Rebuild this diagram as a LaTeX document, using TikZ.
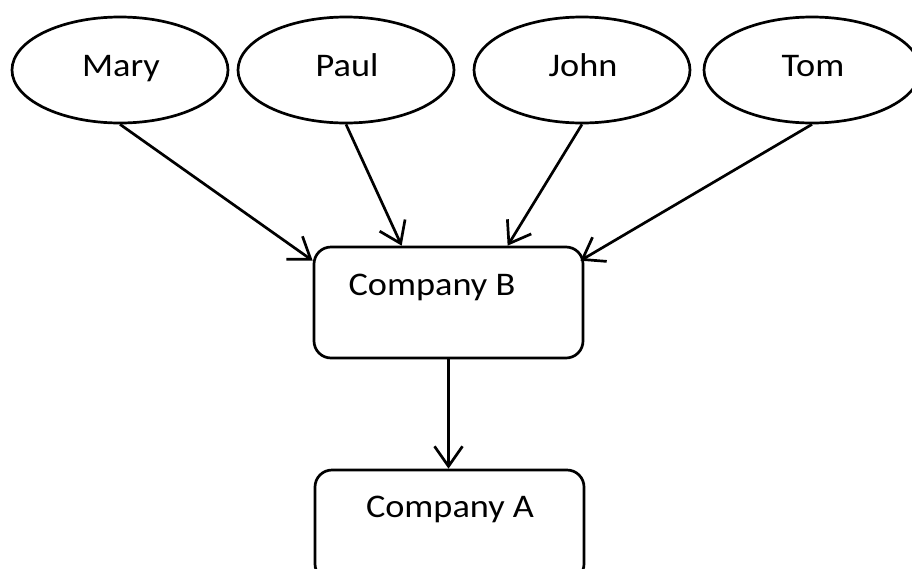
\documentclass[tikz,border=0pt]{standalone}
\usepackage{fontspec}
\setmainfont{Carlito}[FakeStretch=1.1]
\usetikzlibrary{shapes.geometric,arrows.meta,calc}
\begin{document}
\begin{tikzpicture}[x=1pt,y=-1pt,
  lw/.style={line width=2.7pt},
  txt/.style={font=\fontsize{33}{38}\selectfont},
  person/.style={ellipse,draw,lw,minimum width=216pt,minimum height=106pt,inner sep=0pt},
  boxnode/.style={draw,lw,rounded corners=17pt,minimum width=269pt,minimum height=111pt,inner sep=0pt},
  lbl/.style={txt,inner sep=0pt,anchor=base},
  arr/.style={lw,-{Straight Barb[length=20pt,width=28pt]}}]
\useasboundingbox (0,0) rectangle (912,568);
\node[person] (mary) at (120,70) {};
\node[person] (paul) at (346,70) {};
\node[person] (john) at (582,70) {};
\node[person] (tom) at (812,70) {};
\node[lbl] (marytext) at (121,76) {Mary};
\node[lbl] (paultext) at (347,76) {Paul};
\node[lbl] (johntext) at (583,76) {John};
\node[lbl] (tomtext) at (813,76) {Tom};
\node[boxnode] (B) at (448.5,302.5) {};
\node[lbl] (Btext) at (432,295) {Company B};
\node[boxnode] (A) at (449.5,525.5) {};
\node[lbl] (Atext) at (450,517) {Company A};
\draw[arr] (mary.south) -- ($(B.north west)+(0,15)$);
\draw[arr] (paul.south) -- ($(B.north west)+(89,0)$);
\draw[arr] (john.south) -- ($(B.north west)+(195,0)$);
\draw[arr] (tom.south) -- ($(B.north east)+(-4,15)$);
\draw[arr] (B.south) -- (B.south |- A.north);
\end{tikzpicture}
\end{document}
